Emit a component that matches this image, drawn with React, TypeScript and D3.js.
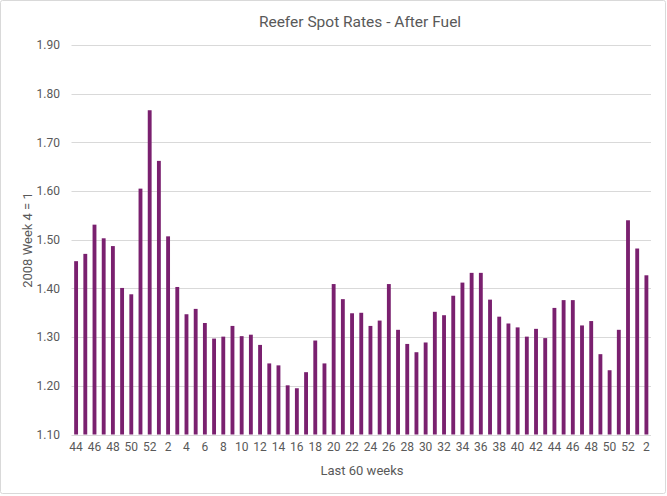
import React from "react";
import * as d3 from "d3";

const weeks: string[] = [
  "44","45","46","47","48","49","50","51","52",
  "1","2","3","4","5","6","7","8","9","10","11","12","13","14","15","16","17","18","19","20",
  "21","22","23","24","25","26","27","28","29","30","31","32","33","34","35","36","37","38","39","40",
  "41","42","43","44b","45b","46b","47b","48b","49b","50b","51b","52b","1b","2b"
];
const rates: number[] = [
  1.456, 1.471, 1.531, 1.503, 1.487, 1.401, 1.388, 1.605, 1.766,
  1.662, 1.507, 1.403, 1.347, 1.358, 1.329, 1.297, 1.301, 1.323, 1.302, 1.305, 1.284, 1.246, 1.242, 1.201, 1.195, 1.228, 1.293, 1.246, 1.409,
  1.378, 1.349, 1.350, 1.323, 1.334, 1.409, 1.315, 1.286, 1.269, 1.289, 1.352, 1.345, 1.385, 1.412, 1.432, 1.432, 1.377, 1.342, 1.328, 1.320,
  1.301, 1.317, 1.298, 1.360, 1.376, 1.376, 1.324, 1.333, 1.265, 1.232, 1.315, 1.540, 1.482, 1.427
];
const yTicks: number[] = [1.1, 1.2, 1.3, 1.4, 1.5, 1.6, 1.7, 1.8, 1.9];
const title = "Reefer Spot Rates - After Fuel";
const xTitle = "Last 60 weeks";
const yTitle = "2008 Week 4 = 1";

const W = 667, H = 496;
const FONT = "Roboto, 'Liberation Sans', Arial, sans-serif";
const TEXT = "#595959";
const GRID = "#d9d9d9";
const BAR = "#7a206f";

export default function App() {
  const x = d3.scaleBand<string>().domain(weeks).range([71.5, 651]).paddingInner(0.58).paddingOuter(0.29);
  const y = d3.scaleLinear().domain([1.1, 1.9]).range([434.5, 45]);
  const label = (w: string) => w.replace("b", "");
  return (
    <svg width={W} height={H} style={{ position: "absolute", left: 0, top: 0, background: "#fff" }}>
      <rect x={0.5} y={0.5} width={665} height={493} fill="#fff" stroke={GRID} rx={2} />
      <text x={360} y={27} textAnchor="middle" fontFamily={FONT} fontSize={15.5} fill={TEXT}>{title}</text>
      {yTicks.map((t) => (
        <g key={t}>
          <line x1={71.5} x2={651} y1={Math.round(y(t)) + 0.5} y2={Math.round(y(t)) + 0.5} stroke={GRID} strokeWidth={1} />
          <text x={60} y={y(t) + 4.3} textAnchor="end" fontFamily={FONT} fontSize={12} fill={TEXT}>{t.toFixed(2)}</text>
        </g>
      ))}
      {weeks.map((w, i) => (
        <rect key={w} x={x(w)} y={y(rates[i])} width={x.bandwidth()} height={y(1.1) - y(rates[i])} fill={BAR} />
      ))}
      {weeks.map((w, i) =>
        i % 2 === 0 ? (
          <text key={"l" + w} x={(x(w) as number) + x.bandwidth() / 2} y={451} textAnchor="middle" fontFamily={FONT} fontSize={12} fill={TEXT}>
            {label(w)}
          </text>
        ) : null
      )}
      <text x={362} y={475} textAnchor="middle" fontFamily={FONT} fontSize={13} fill={TEXT}>{xTitle}</text>
      <text transform={`translate(32,240) rotate(-90)`} textAnchor="middle" fontFamily={FONT} fontSize={13} fill={TEXT}>{yTitle}</text>
    </svg>
  );
}
